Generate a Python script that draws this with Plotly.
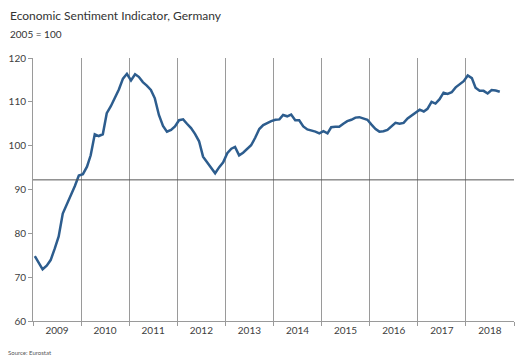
import pandas as pd
import plotly.graph_objects as go

# Economic Sentiment Indicator, Germany (2005 = 100), monthly from Jan 2009
start_month = "2009-01-01"
esi_values = [
    # 2009
    74.8, 73.2, 71.8, 72.6, 73.9, 76.5, 79.3, 84.5, 86.5, 88.5, 90.8, 93.2,
    # 2010
    93.5, 95.2, 97.8, 102.6, 102.2, 102.6, 107.4, 109.0, 110.8, 112.8, 115.3, 116.4,
    # 2011
    114.9, 116.3, 115.7, 114.5, 113.7, 112.7, 110.8, 107.0, 104.5, 103.2, 103.6, 104.4,
    # 2012
    105.8, 106.0, 105.0, 104.0, 102.7, 101.0, 97.5, 96.2, 95.0, 93.7, 95.1, 96.2,
    # 2013
    98.3, 99.3, 99.7, 97.8, 98.4, 99.2, 100.1, 101.8, 103.8, 104.7, 105.2, 105.6,
    # 2014
    105.9, 106.0, 107.0, 106.7, 107.1, 105.8, 105.8, 104.4, 103.7, 103.5, 103.2, 102.8,
    # 2015
    103.3, 102.8, 104.2, 104.3, 104.3, 105.0, 105.6, 105.9, 106.4, 106.5, 106.2, 105.9,
    # 2016
    104.8, 103.8, 103.2, 103.3, 103.6, 104.5, 105.2, 105.0, 105.2, 106.2, 106.9, 107.5,
    # 2017
    108.2, 107.8, 108.4, 110.0, 109.6, 110.6, 112.1, 111.8, 112.2, 113.3, 114.0, 114.7,
    # 2018
    116.0, 115.4, 113.2, 112.5, 112.5, 111.9, 112.7, 112.6, 112.3,
]
years = [2009, 2010, 2011, 2012, 2013, 2014, 2015, 2016, 2017, 2018]
reference_level = 92.2

# mid-month positions for each observation
dates = pd.date_range(start_month, periods=len(esi_values), freq="MS") + pd.Timedelta(days=14)

year_labels = [str(y) for y in years]
label_pos = [f"{y}-07-02" for y in years]
year_bounds = [f"{y}-01-01" for y in years + [years[-1] + 1]]

fig = go.Figure()
fig.add_trace(go.Scatter(
    x=dates, y=esi_values, mode="lines",
    line=dict(color="#2d5d8e", width=2.5),
    hoverinfo="x+y", showlegend=False,
))

fig.add_hline(y=reference_level, line=dict(color="#555555", width=1))

axis_font = dict(family="Lato, 'Open Sans', sans-serif", size=10, color="#404040")

fig.update_xaxes(
    type="date",
    range=[year_bounds[0], year_bounds[-1]],
    tickmode="array", tickvals=label_pos, ticktext=year_labels,
    ticks="", showgrid=False, zeroline=False,
    showline=True, linecolor="#9a9a9a", linewidth=1,
    tickfont=axis_font,
    minor=dict(tickmode="array", tickvals=year_bounds, showgrid=True,
               gridcolor="#9a9a9a", gridwidth=1,
               ticks="outside", ticklen=4, tickcolor="#9a9a9a"),
)
fig.update_yaxes(
    range=[60, 120], dtick=10, tick0=60,
    ticks="outside", ticklen=4, tickcolor="#9a9a9a",
    showline=True, linecolor="#9a9a9a", linewidth=1,
    showgrid=False, zeroline=False,
    tickfont=axis_font,
)

text_font = "Lato, 'Open Sans', sans-serif"
fig.add_annotation(text="Economic Sentiment Indicator, Germany",
                   xref="paper", yref="paper", x=-0.052, y=1.16,
                   xanchor="left", yanchor="middle", showarrow=False,
                   font=dict(family=text_font, size=12, color="#333333"))
fig.add_annotation(text="2005 = 100",
                   xref="paper", yref="paper", x=-0.052, y=1.091,
                   xanchor="left", yanchor="middle", showarrow=False,
                   font=dict(family=text_font, size=10, color="#333333"))
fig.add_annotation(text="Source: Eurostat",
                   xref="paper", yref="paper", x=-0.056, y=-0.118,
                   xanchor="left", yanchor="middle", showarrow=False,
                   font=dict(family=text_font, size=6, color="#555555"))

fig.update_layout(
    width=524, height=358,
    margin=dict(l=33, r=10, t=58, b=37),
    paper_bgcolor="white", plot_bgcolor="white",
)

fig.write_html("out.html")
